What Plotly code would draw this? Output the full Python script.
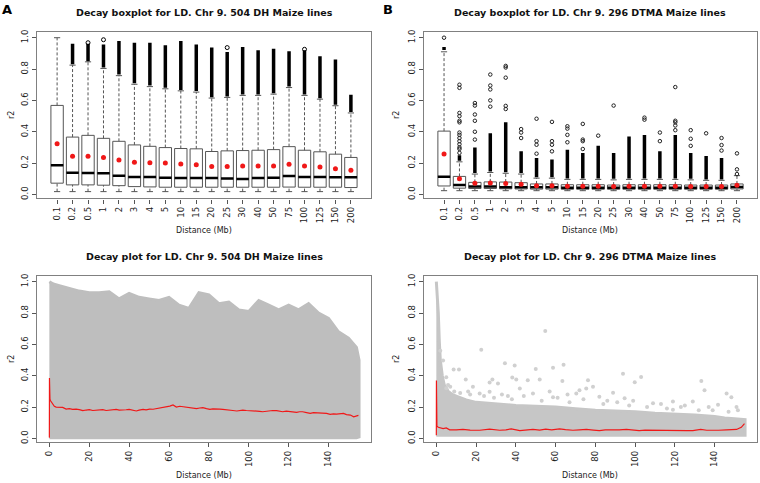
import plotly.graph_objects as go

# distance classes (Mb) for the boxplots
dist_labels = ["0.1", "0.2", "0.5", "1", "2", "3", "4", "5", "10", "15",
               "20", "25", "30", "40", "50", "75", "100", "125", "150", "200"]

# panel A : 504 DH lines
a_q1 = [0.072, 0.061, 0.061, 0.059, 0.056, 0.05, 0.048, 0.046, 0.046, 0.046,
        0.046, 0.046, 0.046, 0.046, 0.046, 0.047, 0.046, 0.046, 0.046, 0.044]
a_median = [0.187, 0.139, 0.137, 0.135, 0.12, 0.112, 0.112, 0.107, 0.105, 0.105,
            0.105, 0.101, 0.099, 0.105, 0.107, 0.118, 0.112, 0.112, 0.109, 0.109]
a_q3 = [0.568, 0.366, 0.377, 0.358, 0.339, 0.316, 0.307, 0.299, 0.293, 0.291,
        0.274, 0.278, 0.28, 0.282, 0.286, 0.305, 0.282, 0.272, 0.257, 0.236]
a_mean = [0.324, 0.244, 0.244, 0.236, 0.219, 0.206, 0.202, 0.2, 0.194, 0.189,
          0.179, 0.179, 0.181, 0.181, 0.181, 0.192, 0.181, 0.175, 0.164, 0.154]
a_lower = [0.018] * 20
a_upper = [1.0, 0.825, 0.846, 0.804, 0.758, 0.703, 0.688, 0.674, 0.661, 0.653,
           0.615, 0.619, 0.632, 0.632, 0.64, 0.682, 0.632, 0.608, 0.566, 0.52]
a_out_lo = [None, 0.83, 0.85, 0.81, 0.765, 0.71, 0.695, 0.68, 0.667, 0.66,
            0.62, 0.625, 0.638, 0.638, 0.646, 0.688, 0.638, 0.614, 0.572, 0.526]
a_out_hi = [None, 0.962, 0.962, 0.956, 0.979, 0.968, 0.968, 0.952, 0.979, 0.956,
            0.937, 0.909, 0.941, 0.92, 0.93, 0.914, 0.92, 0.882, 0.861, 0.636]
a_single_cat = ["0.5", "1", "25", "100"]
a_single_r2 = [0.968, 0.987, 0.937, 0.926]

# panel B : 296 DTMA lines
b_q1 = [0.054, 0.04, 0.038, 0.038, 0.036, 0.035, 0.034, 0.034, 0.033, 0.033,
        0.033, 0.033, 0.033, 0.033, 0.033, 0.033, 0.033, 0.033, 0.033, 0.035]
b_median = [0.1125, 0.06, 0.05, 0.05, 0.046, 0.046, 0.046, 0.046, 0.043, 0.043,
            0.043, 0.043, 0.043, 0.043, 0.043, 0.043, 0.043, 0.043, 0.043, 0.048]
b_q3 = [0.404, 0.115, 0.077, 0.08, 0.079, 0.075, 0.067, 0.067, 0.062, 0.062,
        0.062, 0.06, 0.062, 0.062, 0.062, 0.062, 0.06, 0.06, 0.06, 0.067]
b_mean = [0.258, 0.1, 0.071, 0.073, 0.07, 0.065, 0.056, 0.056, 0.052, 0.052,
          0.052, 0.05, 0.052, 0.052, 0.052, 0.052, 0.05, 0.05, 0.05, 0.058]
b_lower = [0.024] * 20
b_upper = [0.91, 0.208, 0.13, 0.14, 0.135, 0.13, 0.104, 0.104, 0.096, 0.096,
           0.096, 0.093, 0.096, 0.096, 0.096, 0.096, 0.093, 0.09, 0.09, 0.12]
b_dense_lo = [0.922, 0.215, 0.137, 0.147, 0.142, 0.137, 0.11, 0.11, 0.102, 0.102,
              0.102, 0.1, 0.102, 0.102, 0.102, 0.102, 0.1, 0.096, 0.096, None]
b_dense_hi = [0.94, 0.25, 0.30, 0.39, 0.46, 0.275, 0.233, 0.223, 0.285, 0.265,
              0.31, 0.265, 0.37, 0.38, 0.275, 0.38, 0.265, 0.245, 0.233, None]
b_sparse_cat = ["0.1",
                "0.2", "0.2", "0.2", "0.2", "0.2", "0.2", "0.2", "0.2", "0.2", "0.2",
                "0.2", "0.2", "0.2", "0.2",
                "0.5", "0.5", "0.5", "0.5", "0.5", "0.5",
                "1", "1", "1", "1", "1",
                "2", "2", "2", "2", "2",
                "3", "3", "3",
                "4", "4", "4", "4",
                "5", "5", "5", "5",
                "10", "10", "10", "10",
                "15", "15", "15", "15",
                "20", "25",
                "40", "40",
                "50", "50",
                "75", "75", "75", "75", "75",
                "100", "100", "100",
                "125",
                "150", "150", "150",
                "200", "200", "200"]
b_sparse_r2 = [1.0,
               0.265, 0.29, 0.30, 0.32, 0.34, 0.36, 0.38, 0.395, 0.46, 0.47, 0.50,
               0.52, 0.68, 0.70,
               0.35, 0.40, 0.47, 0.51, 0.567, 0.583,
               0.56, 0.60, 0.67, 0.695, 0.765,
               0.545, 0.565, 0.745, 0.81, 0.82,
               0.36, 0.395, 0.417,
               0.26, 0.317, 0.34, 0.483,
               0.275, 0.317, 0.34, 0.463,
               0.333, 0.38, 0.42, 0.435,
               0.29, 0.34, 0.35, 0.45,
               0.375, 0.567,
               0.477, 0.49,
               0.34, 0.395,
               0.41, 0.44, 0.46, 0.47, 0.685,
               0.31, 0.355, 0.41,
               0.39,
               0.28, 0.315, 0.36,
               0.13, 0.16, 0.262]

# panel C : scatter cloud outline and running mean (504 DH)
c_cloud_x = [0, 2, 5, 10, 15, 20, 25, 30, 35, 40, 45, 50, 55, 60, 65, 70, 75, 80,
             85, 90, 95, 100, 105, 110, 115, 120, 125, 130, 135, 140, 145, 150,
             152, 154, 155.3, 155.5]
c_cloud_top = [1.0, 0.985, 0.975, 0.96, 0.94, 0.93, 0.93, 0.935, 0.89, 0.925, 0.9,
               0.89, 0.88, 0.9, 0.85, 0.83, 0.93, 0.915, 0.86, 0.87, 0.82, 0.81,
               0.88, 0.85, 0.82, 0.85, 0.82, 0.86, 0.8, 0.765, 0.68, 0.64, 0.61,
               0.58, 0.5, 0.05]
c_cloud_bottom = [0.004] * 34 + [0.01, 0.02]
c_mean_x = [0, 0.05, 0.3, 0.6, 1, 1.7, 2.5, 3.4, 5, 6.7, 8.4, 10, 11.7, 13.4, 15,
            16.8, 18.5, 20, 21.8, 23.5, 25, 26.8, 28.5, 30, 31.8, 33.5, 35, 36.9,
            38.5, 40, 41.8, 43.6, 45, 47, 48.5, 50.3, 52, 53.7, 55.4, 57, 58.7,
            60.4, 62, 63.7, 65.4, 67, 68.7, 70.4, 72, 73.8, 75.4, 77, 78.8, 80.5,
            82, 83.8, 85.4, 87, 88.8, 90.5, 92, 94, 95.5, 97, 98.8, 100.6, 102,
            104, 105.5, 107, 108.8, 110.7, 112, 114, 115.5, 117, 118.8, 120.7,
            122, 124, 125.5, 127, 129, 130.8, 132.5, 134, 136, 137.5, 139, 140.8,
            142.5, 144, 146, 147.5, 149, 151, 152.6, 154, 155]
c_mean_y = [0.005, 0.385, 0.25, 0.24, 0.232, 0.213, 0.205, 0.2, 0.197, 0.198,
            0.187, 0.19, 0.185, 0.187, 0.184, 0.177, 0.181, 0.183, 0.178, 0.18,
            0.185, 0.183, 0.178, 0.18, 0.184, 0.185, 0.18, 0.179, 0.183, 0.185,
            0.179, 0.175, 0.18, 0.185, 0.182, 0.187, 0.186, 0.19, 0.193, 0.198,
            0.2, 0.206, 0.213, 0.2, 0.205, 0.202, 0.197, 0.194, 0.19, 0.19, 0.194,
            0.196, 0.19, 0.185, 0.188, 0.19, 0.187, 0.185, 0.184, 0.181, 0.178,
            0.175, 0.178, 0.181, 0.178, 0.177, 0.179, 0.175, 0.173, 0.17, 0.174,
            0.177, 0.178, 0.177, 0.175, 0.17, 0.174, 0.172, 0.168, 0.166, 0.17,
            0.17, 0.165, 0.16, 0.165, 0.164, 0.158, 0.157, 0.16, 0.153, 0.157,
            0.155, 0.16, 0.16, 0.152, 0.149, 0.138, 0.142, 0.147]

# panel D : scatter cloud, isolated pairs and running mean (296 DTMA)
d_cloud_x = [0, 0.3, 0.6, 1, 1.5, 2, 3, 4, 6, 8, 10, 15, 20, 30, 40, 50, 60, 70,
             80, 90, 100, 110, 120, 130, 140, 145, 150, 153, 155.3]
d_cloud_top = [1.0, 0.95, 0.9, 0.8, 0.62, 0.5, 0.4, 0.34, 0.3, 0.28, 0.27, 0.245,
               0.23, 0.22, 0.21, 0.205, 0.2, 0.19, 0.18, 0.175, 0.17, 0.16, 0.155,
               0.15, 0.14, 0.13, 0.125, 0.12, 0.12]
d_cloud_bottom = [0.02] * 29
d_pts_x = [22.6, 54.8, 34.5, 39.4, 64, 50, 58.7, 11.4, 14.8, 26.8, 28.2, 38.2,
           40.2, 52, 63.4, 76.3, 93.9, 103, 99.8, 133.3, 134.9, 148.4, 151.7,
           70.4, 72, 88.9, 94.7, 99, 119, 119, 109, 129, 141.7, 46, 26.8, 18.4,
           21.8, 31, 42, 48.6, 58.7, 78.8, 82, 5, 3.4, 2, 5.9, 8.7, 146, 151,
           75.4, 7, 16, 36, 61, 66, 86, 113, 125, 137,
           5, 9, 12, 17, 24, 29, 33, 38, 44, 53, 57, 67, 74, 84, 91, 97, 106,
           116, 123, 132, 139, 147]
d_pts_y = [0.566, 0.686, 0.48, 0.465, 0.47, 0.442, 0.45, 0.44, 0.375, 0.356,
           0.375, 0.388, 0.375, 0.375, 0.367, 0.371, 0.413, 0.392, 0.358, 0.367,
           0.308, 0.262, 0.18, 0.287, 0.308, 0.291, 0.256, 0.241, 0.235, 0.182,
           0.224, 0.235, 0.214, 0.371, 0.298, 0.329, 0.287, 0.35, 0.318, 0.287,
           0.262, 0.329, 0.266, 0.39, 0.497, 0.56, 0.34, 0.44, 0.287, 0.2, 0.318,
           0.33, 0.3, 0.27, 0.26, 0.28, 0.24, 0.22, 0.21, 0.2,
           0.32, 0.3, 0.29, 0.28, 0.27, 0.26, 0.28, 0.25, 0.27, 0.24, 0.3, 0.23,
           0.25, 0.22, 0.23, 0.21, 0.2, 0.19, 0.2, 0.18, 0.18, 0.17]
d_mean_x = [0, 0.05, 0.3, 1, 1.7, 2.5, 3.4, 5, 6.7, 10, 13.4, 17, 21.8, 26.8,
            31.9, 35, 37.7, 42, 45, 48.6, 52, 55, 58, 62, 65, 68.7, 72, 75.5, 79,
            82, 85, 89, 92, 95.6, 99, 102, 105, 109, 112, 115.7, 119, 122.4, 126,
            129, 133, 136, 139, 142, 146, 149, 151, 153.4, 155]
d_mean_y = [0.02, 0.37, 0.078, 0.071, 0.07, 0.066, 0.063, 0.067, 0.055, 0.054,
            0.057, 0.053, 0.052, 0.059, 0.052, 0.055, 0.061, 0.05, 0.054, 0.057,
            0.053, 0.059, 0.055, 0.061, 0.056, 0.052, 0.055, 0.057, 0.053, 0.05,
            0.054, 0.052, 0.055, 0.057, 0.052, 0.05, 0.053, 0.052, 0.05, 0.05,
            0.048, 0.046, 0.049, 0.05, 0.057, 0.052, 0.05, 0.052, 0.055, 0.054,
            0.057, 0.071, 0.094]

x_ticks_mb = [0, 20, 40, 60, 80, 100, 120, 140]
y_ticks = [0.0, 0.2, 0.4, 0.6, 0.8, 1.0]

BOX_LINE = "#555555"
CLOUD = "#bebebe"
RED = "#f01818"
FONT = "DejaVu Sans"

fig = go.Figure()


def add_boxpanel(xa, ya, q1, med, q3, mean, lower, upper):
    pos = list(range(1, len(dist_labels) + 1))
    ax = dict(xaxis=xa, yaxis=ya, showlegend=False, hoverinfo="skip")
    fig.add_trace(go.Box(x=pos, q1=q1, median=med, q3=q3, lowerfence=q1,
                         upperfence=q3, width=0.8, whiskerwidth=0,
                         fillcolor="white", line=dict(color=BOX_LINE, width=1),
                         boxpoints=False, **ax))
    wx, wy, cx, cy, mx, my = [], [], [], [], [], []
    for p, a, b, c, lo, hi in zip(pos, q1, med, q3, lower, upper):
        wx += [p, p, None, p, p, None]
        wy += [c, hi, None, lo, a, None]
        cx += [p - 0.2, p + 0.2, None, p - 0.2, p + 0.2, None]
        cy += [hi, hi, None, lo, lo, None]
        mx += [p - 0.4, p + 0.4, None]
        my += [b, b, None]
    fig.add_trace(go.Scatter(x=wx, y=wy, mode="lines",
                             line=dict(color=BOX_LINE, width=1, dash="3px,2px"), **ax))
    fig.add_trace(go.Scatter(x=cx, y=cy, mode="lines",
                             line=dict(color=BOX_LINE, width=1), **ax))
    fig.add_trace(go.Scatter(x=mx, y=my, mode="lines",
                             line=dict(color="black", width=2.5), **ax))
    return pos, ax


def add_columns(pos, lo, hi, ax):
    ox, oy = [], []
    for p, a, b in zip(pos, lo, hi):
        if a is None:
            continue
        ox += [p, p, None]
        oy += [a, b, None]
    fig.add_trace(go.Scatter(x=ox, y=oy, mode="lines",
                             line=dict(color="black", width=3.5), **ax))


# A
pos, ax = add_boxpanel("x", "y", a_q1, a_median, a_q3, a_mean, a_lower, a_upper)
add_columns(pos, a_out_lo, a_out_hi, ax)
fig.add_trace(go.Scatter(x=[dist_labels.index(c) + 1 for c in a_single_cat], y=a_single_r2,
                         mode="markers", marker=dict(symbol="circle-open", size=4,
                                                     color="black", line=dict(width=1)), **ax))
fig.add_trace(go.Scatter(x=pos, y=a_mean, mode="markers",
                         marker=dict(color=RED, size=5), **ax))

# B
pos, ax = add_boxpanel("x2", "y2", b_q1, b_median, b_q3, b_mean, b_lower, b_upper)
add_columns(pos, b_dense_lo, b_dense_hi, ax)
fig.add_trace(go.Scatter(x=[dist_labels.index(c) + 1 for c in b_sparse_cat], y=b_sparse_r2,
                         mode="markers", marker=dict(symbol="circle-open", size=3.5,
                                                     color="#222", line=dict(width=1)), **ax))
fig.add_trace(go.Scatter(x=pos, y=b_mean, mode="markers",
                         marker=dict(color=RED, size=5), **ax))

# C
ax = dict(xaxis="x3", yaxis="y3", showlegend=False, hoverinfo="skip")
fig.add_trace(go.Scatter(x=c_cloud_x + c_cloud_x[::-1], y=c_cloud_top + c_cloud_bottom[::-1],
                         fill="toself", fillcolor=CLOUD, mode="lines",
                         line=dict(color=CLOUD, width=3), **ax))
fig.add_trace(go.Scatter(x=c_mean_x, y=c_mean_y, mode="lines",
                         line=dict(color=RED, width=1.2), **ax))

# D
ax = dict(xaxis="x4", yaxis="y4", showlegend=False, hoverinfo="skip")
fig.add_trace(go.Scatter(x=d_cloud_x + d_cloud_x[::-1], y=d_cloud_top + d_cloud_bottom[::-1],
                         fill="toself", fillcolor="#c6c6c6", mode="lines",
                         line=dict(color="#c6c6c6", width=3), **ax))
fig.add_trace(go.Scatter(x=d_pts_x, y=d_pts_y, mode="markers",
                         marker=dict(color="#d0d0d0", size=4), **ax))
fig.add_trace(go.Scatter(x=d_mean_x, y=d_mean_y, mode="lines",
                         line=dict(color=RED, width=1.2), **ax))

W, H = 760, 483


def dom_x(a, b):
    return [a / W, b / W]


def dom_y(top, bottom):
    return [1 - bottom / H, 1 - top / H]


axis_common = dict(showline=True, mirror=True, linecolor="#808080", linewidth=1.3,
                   ticks="outside", ticklen=4, tickcolor="#555", tickwidth=1,
                   tickangle=-90, showgrid=False, zeroline=False,
                   tickfont=dict(family=FONT, size=8.5, color="#222"))
box_x = dict(axis_common, range=[-0.3, 21.3], tickvals=list(range(1, 21)),
             ticktext=dist_labels)
mb_x = dict(axis_common, range=[-6.2, 161.3], tickvals=x_ticks_mb)
r2_y = dict(axis_common, range=[-0.025, 1.038], tickvals=y_ticks, tickformat=".1f")

fig.update_layout(
    width=W, height=H, margin=dict(l=0, r=0, t=0, b=0),
    paper_bgcolor="white", plot_bgcolor="white", showlegend=False,
    xaxis=dict(box_x, domain=dom_x(37, 371), anchor="y"),
    yaxis=dict(r2_y, domain=dom_y(30, 198), anchor="x"),
    xaxis2=dict(box_x, domain=dom_x(424, 757), anchor="y2"),
    yaxis2=dict(r2_y, domain=dom_y(30, 198), anchor="x2"),
    xaxis3=dict(mb_x, domain=dom_x(37, 371), anchor="y3"),
    yaxis3=dict(r2_y, domain=dom_y(276, 444), anchor="x3"),
    xaxis4=dict(mb_x, domain=dom_x(424, 757), anchor="y4"),
    yaxis4=dict(r2_y, domain=dom_y(276, 444), anchor="x4"),
)

titles = [("Decay boxplot for LD. Chr 9. 504 DH Maize lines", 204, 11),
          ("Decay boxplot for LD. Chr 9. 296 DTMA Maize lines", 590, 11),
          ("Decay plot for LD. Chr 9. 504 DH Maize lines", 204, 257),
          ("Decay plot for LD. Chr 9. 296 DTMA Maize lines", 590, 257)]
for text, cx, cy in titles:
    fig.add_annotation(text="<b>%s</b>" % text, x=cx / W, y=1 - cy / H, xref="paper",
                       yref="paper", showarrow=False, xanchor="center", yanchor="middle",
                       font=dict(family=FONT, size=9.5, color="#111"))

for lab, cx in [("A", 7), ("B", 388)]:
    fig.add_annotation(text="<b>%s</b>" % lab, x=cx / W, y=1 - 8 / H, xref="paper",
                       yref="paper", showarrow=False, xanchor="center", yanchor="middle",
                       font=dict(family=FONT, size=13, color="black"))

for cx, cy in [(11, 114), (396, 114), (11, 360), (396, 360)]:
    fig.add_annotation(text="r2", x=cx / W, y=1 - cy / H, xref="paper", yref="paper",
                       showarrow=False, textangle=-90, xanchor="center", yanchor="middle",
                       font=dict(family=FONT, size=8, color="#222"))

for cx, cy in [(204, 230), (590, 230), (204, 477), (590, 477)]:
    fig.add_annotation(text="Distance (Mb)", x=cx / W, y=1 - cy / H, xref="paper",
                       yref="paper", showarrow=False, xanchor="center", yanchor="middle",
                       font=dict(family=FONT, size=8, color="#222"))

# drop the browser's default body margin so the figure sits at the page corner
fig.write_html("out.html", config={"displayModeBar": False},
               post_script="document.body.style.margin='0';")
